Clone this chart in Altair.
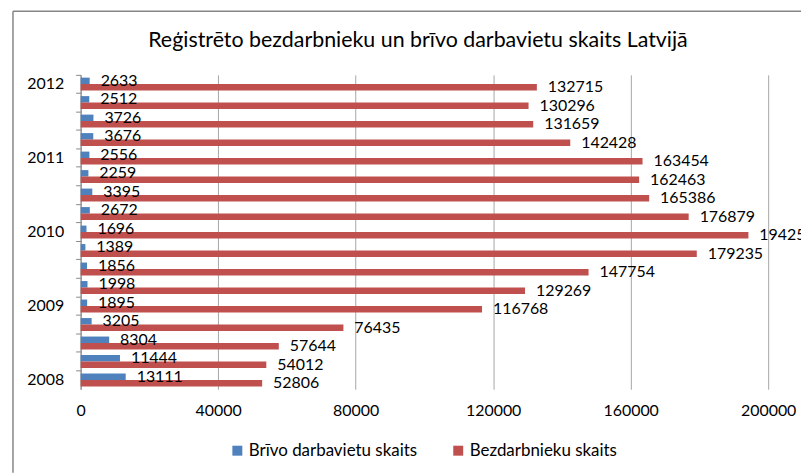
import altair as alt
import pandas as pd

periods = ["2008 Q1", "2008 Q2", "2008 Q3", "2008 Q4",
           "2009 Q1", "2009 Q2", "2009 Q3", "2009 Q4",
           "2010 Q1", "2010 Q2", "2010 Q3", "2010 Q4",
           "2011 Q1", "2011 Q2", "2011 Q3", "2011 Q4",
           "2012 Q1"]
vacancies = [13111, 11444, 8304, 3205, 1895, 1998, 1856, 1389, 1696,
             2672, 3395, 2259, 2556, 3676, 3726, 2512, 2633]
unemployed = [52806, 54012, 57644, 76435, 116768, 129269, 147754, 179235,
              194253, 176879, 165386, 162463, 163454, 142428, 131659, 130296, 132715]
series = ["Brīvo darbavietu skaits", "Bezdarbnieku skaits"]
colors = ["#4F81BD", "#C0504D"]
x_ticks = [0, 40000, 80000, 120000, 160000, 200000]
title_text = "Reģistrēto bezdarbnieku un brīvo darbavietu skaits Latvijā"

rows = []
for p, v, u in zip(periods, vacancies, unemployed):
    rows.append({"period": p, "series": series[0], "value": v})
    rows.append({"period": p, "series": series[1], "value": u})
df = pd.DataFrame(rows)

FONT = "Lato"

y_enc = alt.Y("period:N", sort="descending",
              scale=alt.Scale(paddingInner=0, paddingOuter=0),
              axis=alt.Axis(title=None,
                            labelExpr="indexof(datum.value, 'Q1') >= 0 ? slice(datum.value, 0, 4) : ''",
                            bandPosition=0,
                            tickSize=5, tickColor="#888888",
                            domainColor="#888888", labelFontSize=16, labelColor="#000000",
                            labelFont=FONT, labelPadding=12, grid=False))
yoff = alt.YOffset("series:N", sort=series,
                   scale=alt.Scale(paddingInner=0, paddingOuter=0.43))
x_enc = alt.X("value:Q", scale=alt.Scale(domain=[0, 200000], nice=False),
              axis=alt.Axis(title=None, values=x_ticks, format="d", ticks=False,
                            domain=False, grid=True, gridColor="#a6a6a6",
                            labelFontSize=16, labelFont=FONT, labelColor="#000000",
                            labelPadding=13, labelFlush=False))

base = alt.Chart(df).encode(x=x_enc, y=y_enc, yOffset=yoff)
bars = base.mark_bar().encode(
    color=alt.Color("series:N", sort=series,
                    scale=alt.Scale(domain=series, range=colors),
                    legend=alt.Legend(title=None, orient="none", legendX=149, legendY=369,
                                      direction="horizontal", padding=0,
                                      symbolType="square", symbolSize=100,
                                      labelFontSize=17, labelFont=FONT, labelColor="#000000",
                                      labelLimit=400, columnPadding=32, labelOffset=3))
)
labels = base.mark_text(align="left", baseline="middle", dx=11, fontSize=16,
                        font=FONT, color="#000000").encode(
    text=alt.Text("value:Q", format="d")
)

frame = alt.Chart(pd.DataFrame({"title": [title_text]}))
border_left = frame.mark_rule(color="#868686", strokeWidth=1.5).encode(
    x=alt.value(-68), y=alt.value(-64), y2=alt.value(400))
border_top = frame.mark_rule(color="#868686", strokeWidth=1.5).encode(
    x=alt.value(-68), x2=alt.value(740), y=alt.value(-64))
title = frame.mark_text(fontSize=21.5, font=FONT, color="#000000",
                        align="center", baseline="middle").encode(
    x=alt.value(339), y=alt.value(-34), text="title:N")

chart = alt.layer(bars, labels, border_left, border_top, title).properties(
    width=691, height=316,
    autosize=alt.AutoSizeParams(type="none"),
    padding={"left": 73, "top": 66, "right": 33, "bottom": 84},
).configure_view(stroke=None)

chart.save("out.html", embed_options={"renderer": "svg", "actions": False})
